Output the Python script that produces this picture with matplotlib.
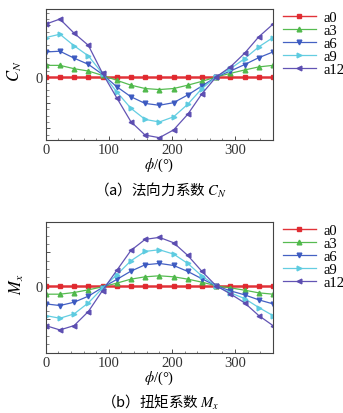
import numpy as np
import matplotlib
matplotlib.use("Agg")
import matplotlib.pyplot as plt
from matplotlib.ticker import AutoMinorLocator, FixedLocator

plt.rcParams["font.family"] = ["Liberation Serif", "Noto Sans CJK SC"]
plt.rcParams["mathtext.fontset"] = "stix"

# --- Data ---
phi = [0, 22.5, 45, 67.5, 90, 112.5, 135, 157.5, 180, 202.5, 225, 247.5, 270, 292.5, 315, 337.5, 360]
labels = ["a0", "a3", "a6", "a9", "a12"]

cn_a0 = [-0.02] * 17
cn_a3 = [0.45, 0.45, 0.32, 0.23, 0.06, -0.13, -0.32, -0.45, -0.49, -0.45, -0.32, -0.17, 0.0, 0.14, 0.27, 0.39, 0.45]
cn_a6 = [0.97, 1.00, 0.73, 0.49, 0.10, -0.38, -0.77, -1.03, -1.10, -1.00, -0.70, -0.35, 0.0, 0.23, 0.48, 0.75, 0.97]
cn_a9 = [1.53, 1.66, 1.21, 0.82, 0.13, -0.58, -1.22, -1.65, -1.75, -1.55, -1.06, -0.45, 0.0, 0.32, 0.71, 1.17, 1.53]
cn_a12 = [2.05, 2.25, 1.70, 1.23, 0.14, -0.81, -1.74, -2.26, -2.36, -2.06, -1.45, -0.65, 0.0, 0.39, 0.92, 1.56, 2.05]

mx_a0 = [0.0] * 17
mx_a3 = [-0.25, -0.25, -0.20, -0.12, -0.03, 0.08, 0.20, 0.27, 0.30, 0.27, 0.20, 0.11, 0.0, -0.06, -0.13, -0.21, -0.25]
mx_a6 = [-0.54, -0.59, -0.49, -0.31, -0.05, 0.19, 0.44, 0.63, 0.67, 0.61, 0.43, 0.21, 0.0, -0.15, -0.27, -0.42, -0.54]
mx_a9 = [-0.89, -0.97, -0.84, -0.51, -0.07, 0.33, 0.75, 1.03, 1.08, 0.95, 0.67, 0.29, 0.0, -0.21, -0.38, -0.65, -0.89]
mx_a12 = [-1.19, -1.32, -1.19, -0.77, -0.14, 0.46, 1.06, 1.39, 1.45, 1.29, 0.91, 0.43, 0.0, -0.24, -0.51, -0.89, -1.19]

colors = ["#e0282e", "#4db848", "#3a58c0", "#5ccbe0", "#5a4bb0"]
markers = ["s", "^", "v", ">", "<"]

# --- Plot ---
fig = plt.figure(figsize=(3.43, 4.14), dpi=100)
W, H = 343, 414
ax1 = fig.add_axes([45.7 / W, 1 - 141 / H, 227.3 / W, 131 / H])
ax2 = fig.add_axes([45.7 / W, 1 - 354 / H, 227.3 / W, 131 / H])

panels = [
    (ax1, [cn_a0, cn_a3, cn_a6, cn_a9, cn_a12], (-2.45, 2.64), r"$C_N$", -0.095),
    (ax2, [mx_a0, mx_a3, mx_a6, mx_a9, mx_a12], (-2.01, 1.91), r"$M_x$", -0.085),
]

for ax, series, ylim, ylab, lx in panels:
    for vals, lab, c, m in zip(series, labels, colors, markers):
        lw = 1.8 if lab == "a0" else 0.9
        ax.plot(phi, vals, color=c, marker=m, markersize=3.4, linewidth=lw,
                label=lab, alpha=0.95)
    ax.set_xlim(0, 360)
    ax.set_ylim(*ylim)
    ax.set_xticks([0, 100, 200, 300])
    ax.xaxis.set_minor_locator(AutoMinorLocator(5))
    ax.yaxis.set_major_locator(FixedLocator([-2, -1, 0, 1, 2]))
    ax.yaxis.set_minor_locator(AutoMinorLocator(4))
    ax.set_yticklabels(["", "", "0", "", ""])
    ax.tick_params(direction="in", labelsize=10.5, length=3, width=0.6,
                   colors="#333333", pad=2)
    ax.tick_params(which="minor", direction="in", length=1.8, width=0.5, colors="#555555")
    for sp in ax.spines.values():
        sp.set_color("#444444")
        sp.set_linewidth(0.8)
    ax.set_xlabel(r"$\phi$/(°)", fontsize=10.5, labelpad=0)
    ax.set_ylabel(ylab, fontsize=12)
    ax.yaxis.set_label_coords(lx, 0.53)
    leg = ax.legend(loc="upper left", bbox_to_anchor=(1.01, 1.045), frameon=False,
                    fontsize=10.5, handlelength=2.3, handletextpad=0.5, labelspacing=0.0,
                    borderaxespad=0.1)
    leg.get_lines()[0].set_linewidth(1.0)

fig.text(160 / W, 1 - 190 / H, "（a）法向力系数 $C_N$", ha="center", va="center",
         fontsize=10.5, family=["Noto Sans CJK SC", "DejaVu Sans"])
fig.text(160 / W, 1 - 402 / H, "（b）扭矩系数 $M_x$", ha="center", va="center",
         fontsize=10.5, family=["Noto Sans CJK SC", "DejaVu Sans"])

fig.savefig("out.png", dpi=100)
